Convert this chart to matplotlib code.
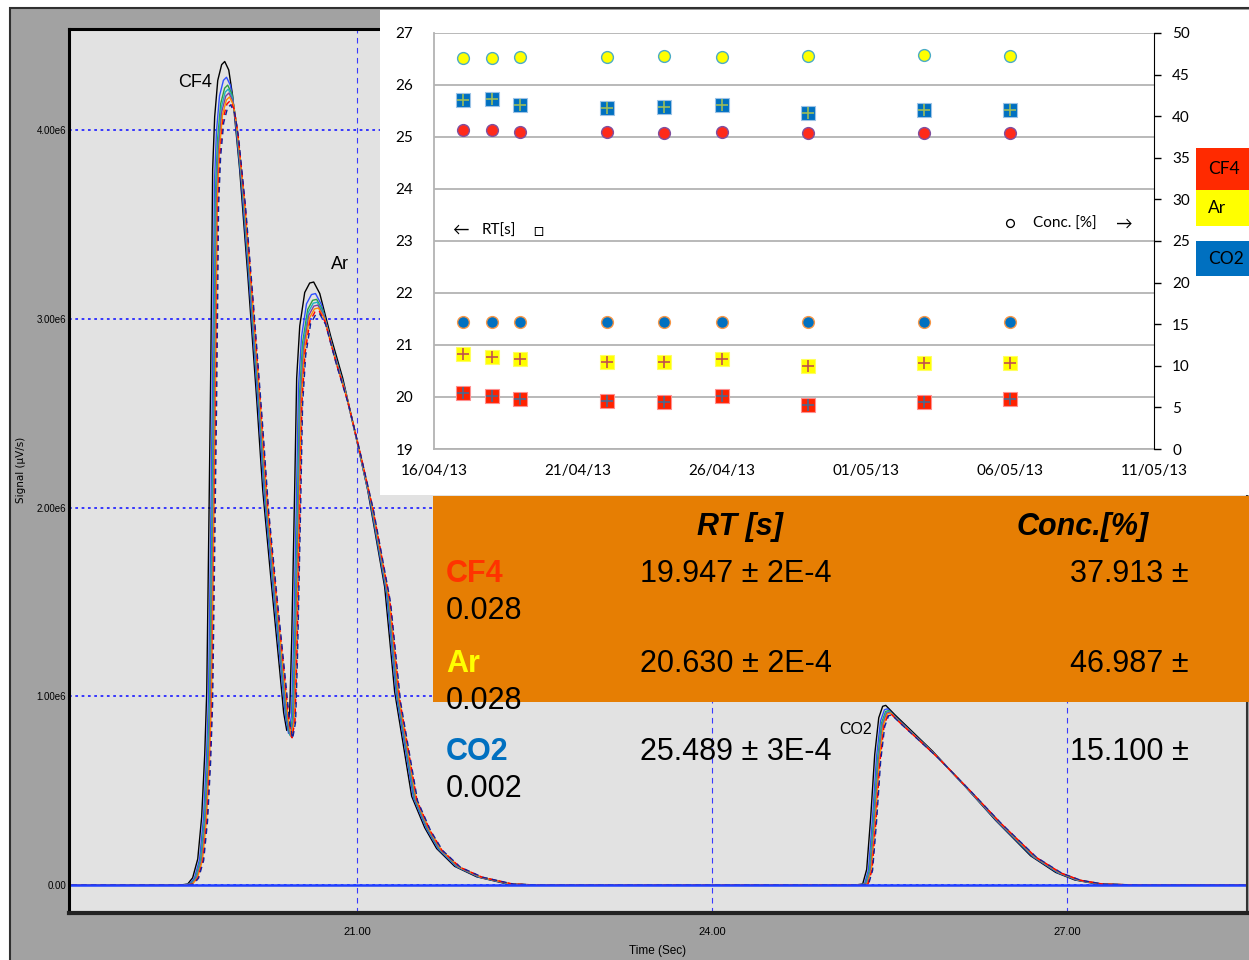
import numpy as np
import matplotlib.pyplot as plt
import matplotlib.dates as mdates
from matplotlib.patches import Rectangle
from datetime import datetime, timedelta

# Chromatogram trace (time in s, signal in 1e6 uV/s)
time_s = [18.5, 19.55, 19.614, 19.656, 19.699, 19.732, 19.758, 19.775, 19.792, 19.808,
          19.817, 19.825, 19.842, 19.868, 19.901, 19.927, 19.961, 19.994, 20.053, 20.121,
          20.197, 20.248, 20.324, 20.392, 20.425, 20.451, 20.476, 20.493, 20.518, 20.535,
          20.561, 20.603, 20.645, 20.679, 20.730, 20.823, 20.924, 21.025, 21.135, 21.279,
          21.363, 21.507, 21.617, 21.718, 21.870, 22.056, 22.318, 22.547,
          25.251, 25.318, 25.352, 25.386, 25.420, 25.454, 25.487, 25.513, 25.589, 25.910,
          26.180, 26.442, 26.738, 26.950, 27.110, 27.304, 27.617, 28.6]
signal = [0, 0, 0.005, 0.037, 0.132, 0.344, 0.662, 0.980, 1.775, 2.570,
          3.099, 3.629, 3.894, 4.079, 4.159, 4.175, 4.132, 4.000, 3.629, 3.099,
          2.464, 2.003, 1.510, 1.086, 0.874, 0.784, 0.874, 1.245, 2.003, 2.570,
          2.834, 3.004, 3.052, 3.057, 2.999, 2.781, 2.570, 2.305, 2.003, 1.510,
          0.980, 0.450, 0.291, 0.185, 0.095, 0.042, 0.005, 0,
          0, 0.005, 0.079, 0.344, 0.662, 0.848, 0.906, 0.911, 0.864, 0.678,
          0.503, 0.328, 0.148, 0.064, 0.026, 0.005, 0, 0]

# individual runs: colour, time offset (s), height factor
run_colors = ['black', '#3050ff', '#30a040', '#20b0c0', '#8040a0', '#ff8c00', '#ff0000', '#1020a0']
run_shift = [-0.045, -0.03, -0.02, -0.015, -0.01, -0.005, 0.0, 0.005]
run_scale = [1.045, 1.025, 1.015, 1.01, 1.005, 1.0, 0.995, 0.99]
run_style = ['-', '-', '-', '-', '-', '-', (0, (4, 3)), (0, (4, 3))]

chrom_yticks = [0, 1, 2, 3, 4]
chrom_ylabels = ['0.00', '1.00e6', '2.00e6', '3.00e6', '4.00e6']
chrom_xticks = [21, 24, 27]
chrom_xlabels = ['21.00', '24.00', '27.00']

# inset: measurements per date
dates = [datetime(2013, 4, 17), datetime(2013, 4, 18), datetime(2013, 4, 19),
         datetime(2013, 4, 22), datetime(2013, 4, 24), datetime(2013, 4, 26),
         datetime(2013, 4, 29), datetime(2013, 5, 3), datetime(2013, 5, 6)]
rt_cf4 = [20.07, 20.02, 19.97, 19.93, 19.91, 20.01, 19.85, 19.90, 19.96]
rt_ar = [20.82, 20.76, 20.73, 20.68, 20.68, 20.74, 20.60, 20.65, 20.65]
rt_co2 = [25.71, 25.74, 25.62, 25.55, 25.57, 25.61, 25.47, 25.52, 25.52]
conc_cf4 = [38.34, 38.34, 38.14, 38.14, 38.02, 38.14, 38.02, 38.02, 38.02]
conc_ar = [46.96, 47.03, 47.15, 47.15, 47.27, 47.15, 47.20, 47.32, 47.20]
conc_co2 = [15.23, 15.23, 15.23, 15.23, 15.23, 15.23, 15.23, 15.23, 15.23]

# summary table
gases = ['CF4', 'Ar', 'CO2']
gas_colors = ['#ff3300', '#ffff00', '#0070c0']
rt_text = ['19.947 ± 2E-4', '20.630 ± 2E-4', '25.489 ± 3E-4']
conc_text = ['37.913 ±', '46.987 ±', '15.100 ±']
conc_err = ['0.028', '0.028', '0.002']

W, H = 1249, 960


def fx(px):
    return px / W


def fy(py):
    return 1 - py / H


narrow = ['Liberation Sans Narrow', 'Liberation Sans', 'DejaVu Sans']
calib = ['Lato', 'DejaVu Sans']

fig = plt.figure(figsize=(W / 100, H / 100), dpi=100)
fig.patch.set_facecolor('white')

# grey instrument frame
fig.add_artist(Rectangle((fx(10), fy(975)), fx(1265) - fx(10), fy(8) - fy(975),
                         transform=fig.transFigure, facecolor='#a2a2a2',
                         edgecolor='#303030', lw=1.5, zorder=-1))

# ---- chromatogram ----
ax = fig.add_axes([fx(69), fy(913), fx(1247) - fx(69), fy(29) - fy(913)])
ax.set_facecolor('#e2e2e2')
ax.set_xlim(18.566, 28.521)
ax.set_ylim(-0.148, 4.535)
for v in chrom_yticks:
    ax.axhline(v, color='#2a2aff', ls=(0, (1.5, 2)), lw=1.3, zorder=1)
for v in chrom_xticks:
    ax.axvline(v, color='#3a3aff', ls=(0, (5, 4)), lw=0.8, zorder=1)

t_arr = np.array(time_s)
s_arr = np.array(signal)
for c, sh, sc, ls in zip(run_colors, run_shift, run_scale, run_style):
    ax.plot(t_arr + sh, s_arr * sc, color=c, lw=1.0, ls=ls, zorder=2)
ax.plot(t_arr, s_arr * 0.0, color='#2040ff', lw=1.8, zorder=2)

ax.set_yticks(chrom_yticks)
ax.set_yticklabels(chrom_ylabels, family=narrow, fontsize=7)
ax.set_xticks(chrom_xticks)
ax.set_xticklabels(chrom_xlabels, family=narrow, fontsize=8)
ax.tick_params(length=0, pad=2)
ax.tick_params(axis='x', pad=10)
for side in ['left', 'top']:
    ax.spines[side].set_linewidth(2.2)
    ax.spines[side].set_color('black')
ax.spines['bottom'].set_linewidth(3)
ax.spines['bottom'].set_color('#222222')
ax.spines['right'].set_linewidth(1.5)
ax.spines['right'].set_color('#333333')

ax.text(19.631, 4.249, 'CF4', family=narrow, fontsize=13, ha='center', va='center')
ax.text(20.856, 3.29, 'Ar', family=narrow, fontsize=13, ha='center', va='center')
ax.text(25.209, 0.826, 'CO2', family=narrow, fontsize=11.5, ha='center', va='center')

fig.text(fx(21), fy(470), 'Signal (µV/s)', rotation=90, fontsize=7.5,
         ha='center', va='center', family='DejaVu Sans')
fig.text(fx(658), fy(951), 'Time (Sec)', fontsize=8.5, ha='center', va='center', family=narrow)

# ---- inset scatter chart ----
fig.add_artist(Rectangle((fx(380), fy(495)), fx(1265) - fx(380), fy(10) - fy(495),
                         transform=fig.transFigure, facecolor='white',
                         edgecolor='none', zorder=1))

iax = fig.add_axes([fx(434), fy(449), fx(1154) - fx(434), fy(33) - fy(449)])
iax.set_zorder(2)
iax.set_facecolor('none')
iax.set_ylim(19, 27)
iax.set_yticks(range(19, 28))
iax.grid(axis='y', color='#b3b3b3', lw=1.3)
iax.set_axisbelow(True)
x_ticks = [datetime(2013, 4, 16) + timedelta(days=5 * i) for i in range(6)]
iax.set_xlim(x_ticks[0], x_ticks[-1])
iax.set_xticks(x_ticks)
iax.xaxis.set_major_formatter(mdates.DateFormatter('%d/%m/%y'))
iax.tick_params(axis='y', length=0, pad=15, labelsize=11)
iax.tick_params(axis='x', length=0, pad=11, labelsize=11)
for lab in iax.get_xticklabels() + iax.get_yticklabels():
    lab.set_family(calib)
iax.spines['top'].set_visible(False)
iax.spines['right'].set_visible(False)
iax.spines['bottom'].set_color('#b3b3b3')
iax.spines['bottom'].set_linewidth(1.3)
iax.spines['left'].set_color('#b3b3b3')
iax.spines['left'].set_linewidth(1.3)

sq_face = ['#ff2200', '#ffff00', '#0070c0']
sq_edge = ['#ff9090', '#ffff60', '#9dc3e6']
sq_plus = ['#4a6890', '#c0504d', '#9bbb59']
for vals, fc, ec, pc in zip([rt_cf4, rt_ar, rt_co2], sq_face, sq_edge, sq_plus):
    iax.plot(dates, vals, 's', ms=10, mfc=fc, mec=ec, mew=0.8, zorder=3)
    iax.plot(dates, vals, '+', ms=9, color=pc, mew=1.2, zorder=4)

iax2 = iax.twinx()
iax2.set_ylim(0, 50)
iax2.set_yticks(range(0, 51, 5))
iax2.tick_params(axis='y', direction='out', length=5, width=1, pad=8, labelsize=11)
for lab in iax2.get_yticklabels():
    lab.set_family(calib)
for side in ['top', 'left', 'bottom']:
    iax2.spines[side].set_visible(False)
iax2.spines['right'].set_color('black')

circ_face = ['#ff2a1a', '#ffff00', '#0070c0']
circ_edge = ['#8050a0', '#4bacc6', '#f79646']
for vals, fc, ec in zip([conc_cf4, conc_ar, conc_co2], circ_face, circ_edge):
    iax2.plot(dates, vals, 'o', ms=8.5, mfc=fc, mec=ec, mew=1.0, zorder=3)

fig.text(fx(452), fy(230), '←', fontsize=12, va='center', family=calib, zorder=5)
fig.text(fx(482), fy(231), 'RT[s]', fontsize=11, va='center', family=calib, zorder=5)
fig.text(fx(533), fy(231), '□', fontsize=12, va='center', family=calib, zorder=5)
fig.text(fx(1004), fy(224), '○', fontsize=12, va='center', family=calib, zorder=5)
fig.text(fx(1033), fy(224), 'Conc. [%]', fontsize=11, va='center', family=calib, zorder=5)
fig.text(fx(1115), fy(224), '→', fontsize=12, va='center', family=calib, zorder=5)

# legend boxes
box_rows = [(148, 190), (190, 226), (241, 276)]
for g, c, (y0, y1) in zip(gases, ['#ff2a00', '#ffff00', '#0070c0'], box_rows):
    fig.add_artist(Rectangle((fx(1196), fy(y1)), fx(1260) - fx(1196), fy(y0) - fy(y1),
                             transform=fig.transFigure, facecolor=c, edgecolor='none', zorder=3))
    fig.text(fx(1208), fy((y0 + y1) / 2), g, fontsize=12.5, va='center',
             family=calib, zorder=4)

# ---- summary table ----
fig.add_artist(Rectangle((fx(433), fy(702)), fx(1260) - fx(433), fy(496) - fy(702),
                         transform=fig.transFigure, facecolor='#e67e03',
                         edgecolor='none', zorder=3))
tab_font = 'Liberation Sans'
fig.text(fx(740), fy(535), 'RT [s]', fontsize=22, ha='center', va='baseline',
         weight='bold', style='italic', family=tab_font, zorder=4)
fig.text(fx(1083), fy(535), 'Conc.[%]', fontsize=22, ha='center', va='baseline',
         weight='bold', style='italic', family=tab_font, zorder=4)
row_base = [582, 672, 760]
for g, c, rt, cc, ce, yb in zip(gases, gas_colors, rt_text, conc_text, conc_err, row_base):
    fig.text(fx(446), fy(yb), g, fontsize=22, color=c, weight='bold',
             va='baseline', family=tab_font, zorder=4)
    fig.text(fx(640), fy(yb), rt, fontsize=22, va='baseline', family=tab_font, zorder=4)
    fig.text(fx(1070), fy(yb), cc, fontsize=22, va='baseline', family=tab_font, zorder=4)
    fig.text(fx(446), fy(yb + 37), ce, fontsize=22, va='baseline', family=tab_font, zorder=4)

fig.savefig('out.png', dpi=100)
